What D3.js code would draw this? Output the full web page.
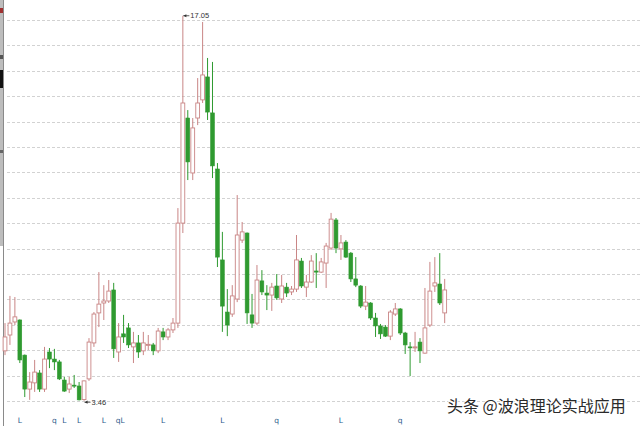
<!DOCTYPE html>
<html><head><meta charset="utf-8">
<script src="https://cdn.jsdelivr.net/npm/d3@7"></script>
<style>html,body{margin:0;padding:0;background:#fff;}svg{display:block;}</style>
</head><body>
<svg id="c" width="640" height="426"></svg>
<script>
const openV = [5.22,5.78,6.24,6.31,5.07,3.87,4.09,4.44,3.87,5.18, 4.93,4.83,4.19,3.87,4.01,3.98,3.50,4.23,5.50,6.56, 6.91,6.98,7.37,5.18,5.82,6.03,5.36,5.50,5.22,5.43, 5.43,5.22,5.89,5.71,5.96,6.20,9.73,13.44,11.50,13.44, 14.08,14.89,13.62,11.64,8.43,6.59,6.52,7.05,9.13,9.38, 6.49,6.20,7.69,7.26,7.19,7.51,7.05,7.47,7.30,7.40, 8.39,7.47,7.65,8.04,8.00,8.32,8.85,9.84,8.82,9.06, 8.67,7.76,7.51,6.80,6.91,6.38,6.10,6.06,5.74,6.52, 6.70,5.85,5.36,5.34,5.53,5.14,6.13,7.51,7.58,6.56];
const closeV = [5.71,6.20,6.42,4.90,3.87,4.12,4.47,3.87,4.93,4.93, 4.83,4.23,3.80,4.05,3.98,3.49,4.16,5.53,6.52,6.87, 6.98,7.33,5.29,5.71,5.71,5.43,5.50,5.18,5.50,5.45, 5.22,5.92,5.71,5.96,6.20,9.73,13.97,11.89,13.09,13.97, 14.96,13.65,11.75,8.53,6.80,6.13,7.16,9.31,9.42,6.56, 6.20,7.72,7.30,7.19,7.47,7.09,7.51,7.26,7.40,8.43, 7.51,7.65,8.39,8.00,8.36,8.92,9.87,8.85,9.03,8.53, 7.76,7.54,6.80,6.94,6.38,6.10,5.82,5.74,6.59,6.70, 5.85,5.43,5.34,5.36,5.22,6.03,7.33,7.62,6.91,7.37];
const highV = [6.20,7.16,7.12,6.33,5.09,4.47,4.90,4.54,5.36,5.32, 5.29,4.90,4.30,4.30,4.37,4.12,4.17,5.67,6.59,8.00, 7.54,7.72,7.62,6.20,6.49,6.20,5.89,5.78,5.89,5.78, 5.50,6.03,6.03,6.03,6.38,10.26,17.05,13.72,13.44,14.85, 16.83,15.56,15.42,11.85,9.42,7.40,7.54,10.72,9.77,9.40, 7.23,8.25,8.07,7.54,7.62,7.93,7.90,7.62,7.51,9.31, 8.50,7.90,8.60,8.67,8.50,9.03,10.09,9.91,9.31,9.13, 8.71,8.53,7.54,7.51,6.94,6.56,6.17,6.13,6.66,6.91, 6.73,5.89,5.53,5.89,5.67,7.44,8.36,8.53,8.67,7.76];
const lowV = [5.07,5.43,6.13,4.79,3.59,3.49,3.77,3.77,3.77,4.61, 4.54,4.19,3.77,3.73,3.91,3.47,3.46,4.16,5.36,6.06, 6.31,6.91,4.97,4.83,5.50,5.32,4.79,4.97,5.07,5.25, 5.07,5.14,5.60,5.60,5.85,6.03,9.38,11.25,11.25,13.19, 13.97,13.37,11.32,8.18,5.89,5.74,6.42,6.94,9.03,6.17, 6.03,6.13,7.19,6.66,6.63,7.02,6.91,7.12,7.19,7.30, 7.44,7.12,7.62,7.44,7.97,7.44,8.78,8.67,8.43,8.50, 7.65,7.47,6.73,6.66,6.31,5.71,5.64,5.71,5.60,6.45, 5.78,5.11,4.33,5.18,4.79,5.12,6.06,7.30,6.84,6.20];
const gridVals = [3.45,4.35,5.24,6.14,7.04,7.93,8.83,9.73,10.62,11.52,12.42,13.31,14.21,15.11,16.00,16.90];
const markLabels = ["L","q","L","L","L","qL","L","L","q","L","q"];
const markIdx = [3,10,12,15,20,23,32,44,55,68,80];
const maxLabel = "17.05", minLabel = "3.46";

const svg = d3.select("#c");
const idx = d3.range(openV.length);
const x = d3.scalePoint().domain(idx).range([5, 444.7]);
const y = d3.scaleLinear().domain([3.45, 16.90]).range([401, 20]);

// left edge strip
svg.append("rect").attr("x",0).attr("y",0).attr("width",3).attr("height",246).attr("fill","#bdbdbd");
svg.append("rect").attr("x",0).attr("y",8).attr("width",3).attr("height",5).attr("fill","#a03030");
svg.append("rect").attr("x",0).attr("y",55).attr("width",3).attr("height",4).attr("fill","#555");
svg.append("rect").attr("x",0).attr("y",70).attr("width",3).attr("height",18).attr("fill","#111");
svg.append("rect").attr("x",0).attr("y",150).attr("width",3).attr("height",3).attr("fill","#666");
svg.append("line").attr("x1",3.5).attr("x2",3.5).attr("y1",0).attr("y2",426).attr("stroke","#8a8a8a").attr("stroke-width",1);

// grid
svg.append("g").selectAll("line").data(gridVals).join("line")
  .attr("x1",7).attr("x2",640)
  .attr("y1",d=>Math.round(y(d))+0.5).attr("y2",d=>Math.round(y(d))+0.5)
  .attr("stroke","#d2d2d2").attr("stroke-width",1).attr("stroke-dasharray","3,2");

const upC = "#c98585", dnC = "#2f9a30";
const bw = 3.8;
const g = svg.append("g");
idx.forEach(i=>{
  const o=openV[i], c=closeV[i], h=highV[i], l=lowV[i];
  const up = c >= o;
  const col = up ? upC : dnC;
  const cx = x(i);
  g.append("line").attr("x1",cx).attr("x2",cx).attr("y1",y(h)).attr("y2",y(l))
    .attr("stroke",col).attr("stroke-width",1);
  const top = y(Math.max(o,c)), bot = y(Math.min(o,c));
  const hgt = Math.max(1, bot-top);
  g.append("rect").attr("x",cx-bw/2).attr("y",top).attr("width",bw).attr("height",hgt)
    .attr("fill", up ? "#fff" : dnC).attr("stroke",col).attr("stroke-width", up?0.9:0.6);
});

// max / min annotations
const iMax = highV.indexOf(d3.max(highV));
const iMin = lowV.indexOf(d3.min(lowV));
function annot(i, val, label, dy){
  const px = x(i)+0.5, py = y(val)+dy;
  svg.append("line").attr("x1",px).attr("x2",px+6).attr("y1",py).attr("y2",py).attr("stroke","#333").attr("stroke-width",0.8);
  svg.append("path").attr("d",`M${px},${py} l3,-1.6 l0,3.2 z`).attr("fill","#333");
  svg.append("text").attr("x",px+7).attr("y",py+2.6).text(label)
    .attr("font-family","Liberation Sans, Arial, sans-serif").attr("font-size",7.5).attr("fill","#333");
}
annot(iMax, highV[iMax], maxLabel, 0);
annot(iMin, lowV[iMin], minLabel, 1.5);

// bottom markers
svg.append("g").selectAll("text").data(markIdx).join("text")
  .attr("x",(d,k)=>x(d)+(markLabels[k].length>1?1.5:0)).attr("y",423)
  .attr("text-anchor","middle")
  .attr("font-family","DejaVu Sans, sans-serif").attr("font-size",7.5)
  .attr("fill","#2a5a8a").text((d,k)=>markLabels[k]);

// watermark
svg.append("text").attr("x",447).attr("y",412)
  .attr("font-family","Noto Sans CJK SC, sans-serif").attr("font-size",16)
  .attr("fill","#2a2a2a").attr("stroke","#fff").attr("stroke-width",2).attr("paint-order","stroke")
  .text("头条 @波浪理论实战应用");
</script>
</body></html>
